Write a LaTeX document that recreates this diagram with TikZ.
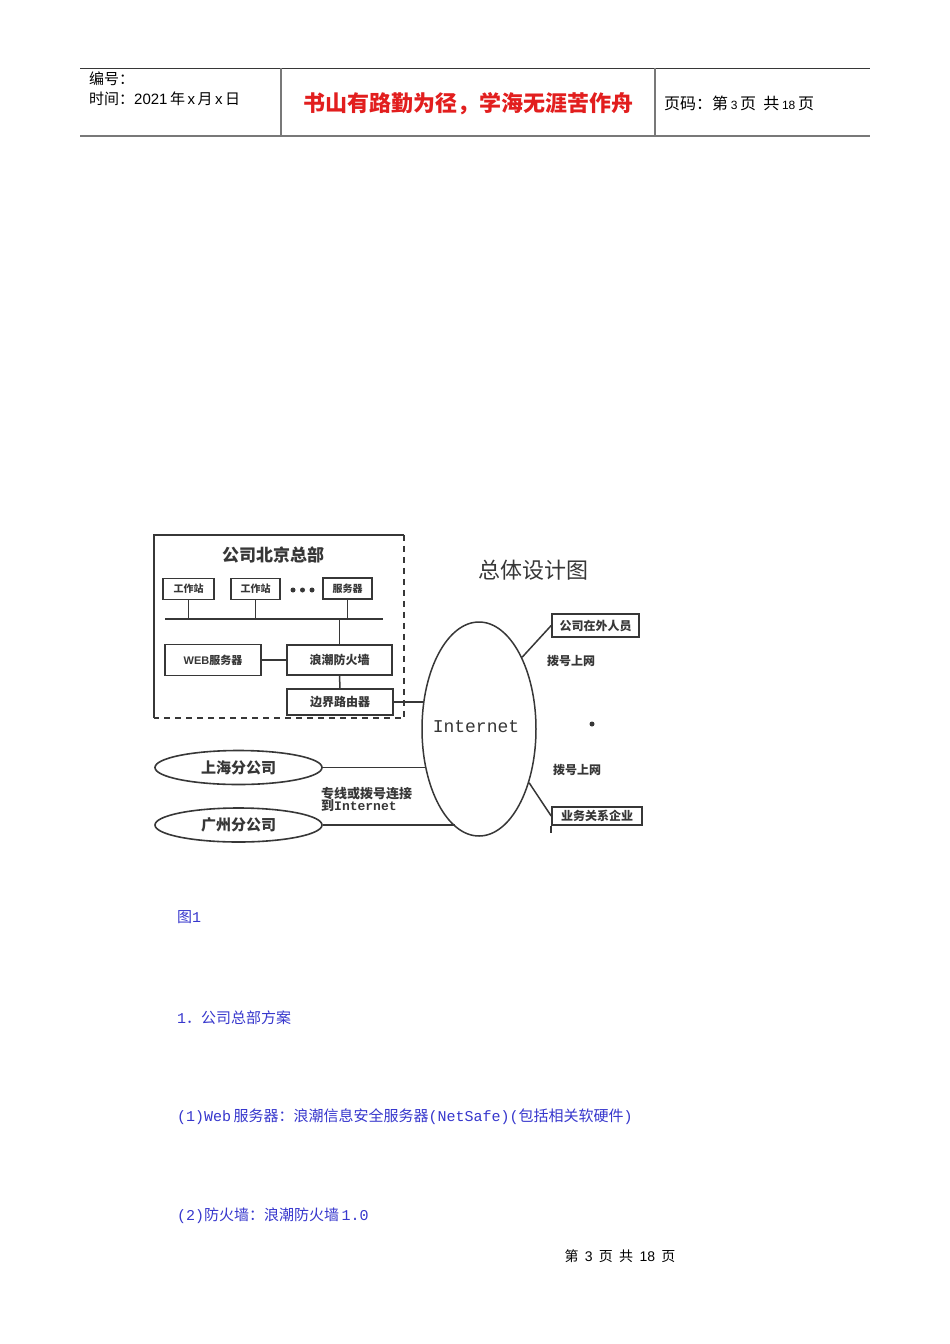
\documentclass[tikz,border=0pt]{standalone}
\usepackage{fontspec}
\setmainfont{Liberation Sans}
\newfontfamily\cjk{Noto Sans CJK SC}
\newfontfamily\mono{Liberation Mono}
\usetikzlibrary{shapes.geometric}
\definecolor{hdrline}{RGB}{120,120,120}
\definecolor{redtxt}{RGB}{226,30,30}
\definecolor{bluetxt}{RGB}{55,55,205}
\definecolor{ink}{RGB}{55,55,55}
\newcommand{\fs}[1]{\fontsize{#1}{#1}\selectfont}
\tikzset{
  lbox/.style={draw=ink, line width=1.6pt, inner sep=0pt, text=ink, font=\cjk\bfseries\fs{#1}},
  lbox/.default=11,
  link/.style={draw=ink, line width=1.5pt},
  oval/.style={ellipse, draw=ink, line width=1.6pt, inner sep=0pt, minimum width=167pt, minimum height=34pt, text=ink, font=\cjk\bfseries\fs{15}},
  dlabel/.style={inner sep=0pt, text=ink, font=\cjk\bfseries\fs{#1}},
  dlabel/.default=12,
  hdr/.style={inner sep=0pt, anchor=west, font=\cjk\fs{15}},
  body/.style={inner sep=0pt, anchor=west, text=bluetxt, font=\cjk\fs{15}},
  rule/.style={draw=hdrline, line width=1.3pt}
}
\begin{document}
\begin{tikzpicture}[x=1pt,y=-1pt]
\useasboundingbox (0,0) rectangle (950,1344);
\fill[white] (0,0) rectangle (950,1344);

% ---------------- header ----------------
\coordinate (hTL) at (80,68);
\coordinate (hTR) at (870,68);
\coordinate (hBL) at (80,136);
\coordinate (hBR) at (870,136);
\draw[draw=ink, line width=0.9pt] (hTL) -- (hTR);
\draw[rule, line width=1.8pt] (hBL) -- (hBR);
\draw[rule] (281,68) -- (281,136);
\draw[rule] (655,68) -- (655,136);
\node[hdr] (hno) at (89,79) {编号：};
\node[hdr] (htime) at (89,99) {时间：{\fontspec{Liberation Sans}2021}\,年\,{\fontspec{Liberation Sans}x}\,月\,{\fontspec{Liberation Sans}x}\,日};
\node[inner sep=0pt, text=redtxt, font=\cjk\bfseries\fs{22}] (motto) at (468,104) {书山有路勤为径，学海无涯苦作舟};
\node[hdr, font=\cjk\fs{16}] (hpage) at (664,103) {页码：第\,{\fontspec{Liberation Sans}\fs{12}3}\,页\ \ 共\,{\fontspec{Liberation Sans}\fs{12}18}\,页};

% ---------------- diagram: HQ ----------------
\node[minimum width=250pt, minimum height=183pt, inner sep=0pt] (hq) at (279,626.5) {};
\draw[draw=ink, line width=1.5pt] (hq.south west) -- (hq.north west) -- (hq.north east);
\draw[draw=ink, line width=1.5pt, dash pattern=on 6pt off 5pt] (hq.north east) -- (hq.south east) -- (hq.south west);
\node[dlabel=17] (hqt) at (273,555) {公司北京总部};

\node[lbox=10, minimum width=51pt, minimum height=21pt] (ws1) at (188.5,589) {工作站};
\node[lbox=10, minimum width=49pt, minimum height=21pt] (ws2) at (255.5,589) {工作站};
\node[lbox=10, minimum width=49pt, minimum height=21pt] (srv) at (347.5,588.5) {服务器};
\node[inner sep=0pt] (dots) at (302,590) {};
\fill[ink] (293,590) circle (2.5pt) (302.5,590) circle (2.5pt) (312,590) circle (2.5pt);

\coordinate (busL) at (165,619);
\coordinate (busR) at (383,619);
\draw[link] (busL) -- (busR);
\draw[link] (ws1.south) -- (ws1.south |- busL);
\draw[link] (ws2.south) -- (ws2.south |- busL);
\draw[link] (srv.south) -- (srv.south |- busL);

\node[lbox=11, minimum width=96pt, minimum height=31pt] (web) at (213,660) {{\fontspec{Liberation Sans}\bfseries WEB}服务器};
\node[lbox=12, minimum width=105pt, minimum height=30pt] (fw) at (339.5,660) {浪潮防火墙};
\node[lbox=12, minimum width=106pt, minimum height=26pt] (rt) at (340,702) {边界路由器};
\draw[link] (fw.north) -- (fw.north |- busL);
\draw[link] (web.east) -- (fw.west);
\draw[link] (fw.south) -- (rt.north);

% ---------------- Internet ----------------
\node[ellipse, draw=ink, line width=1.5pt, inner sep=0pt, minimum width=114pt, minimum height=214pt] (inet) at (479,729) {};
\node[inner sep=0pt, text=ink, font=\mono\fs{18}] (inetl) at (476,727) {Internet};
\node[inner sep=0pt, text=ink, font=\cjk\fs{22}] (title) at (533,570) {总体设计图};

\draw[link] (rt.east) -- (rt.east -| inet.154.7);

\node[lbox=12, minimum width=87pt, minimum height=23pt] (ext) at (595.5,625.5) {公司在外人员};
\node[lbox=12, minimum width=90pt, minimum height=18pt] (biz) at (597,816) {业务关系企业};
\draw[link] (inet.59.7) -- (ext.west);
\draw[link] (inet.-47.8) -- (biz.west);
\draw[link] (biz.south west) -- ++(0,7);
\node[dlabel] (dial1) at (571,661) {拨号上网};
\node[dlabel] (dial2) at (577,770) {拨号上网};
\fill[ink] (592,724) circle (2.5pt);

% ---------------- branches ----------------
\node[oval] (sh) at (238.5,767.5) {上海分公司};
\node[oval] (gz) at (238.5,825) {广州分公司};
\draw[link] (sh.east) -- (sh.east -| inet.216.3);
\draw[link] (gz.east) -- (gz.east -| inet.256.1);
\node[dlabel=13, anchor=west, align=left] (lease) at (321,799) {专线或拨号连接\\[-1pt]到{\mono\bfseries Internet}};

% ---------------- body text ----------------
\node[body] (fig) at (177,917) {图{\mono 1}};
\node[body] (s1) at (177,1018) {{\mono 1}．公司总部方案};
\node[body] (s11) at (177,1117) {{\mono (1)Web}\,服务器：浪潮信息安全服务器{\mono (NetSafe)(}包括相关软硬件{\mono )}};
\node[body] (s12) at (177,1216) {{\mono (2)}防火墙：浪潮防火墙\,{\mono 1.0}};
\node[inner sep=0pt, font=\cjk\fs{14}] (foot) at (620,1256) {第\ \ {\fontspec{Liberation Sans}3}\ \ 页\ \ 共\ \ {\fontspec{Liberation Sans}18}\ \ 页};
\end{tikzpicture}
\end{document}
